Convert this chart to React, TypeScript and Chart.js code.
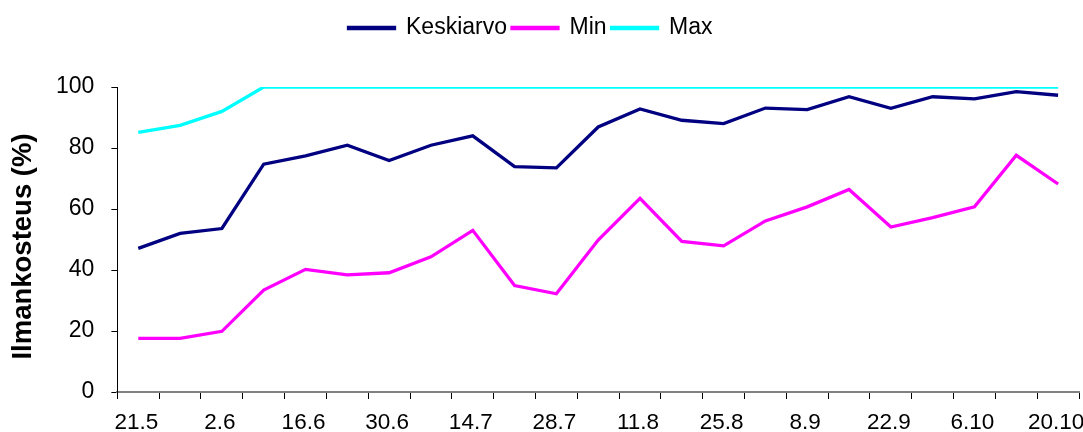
import React, { useEffect, useRef } from "react";
import { Chart, registerables } from "chart.js";

Chart.register(...registerables);

const categories = [
  "21.5", "27.5", "2.6", "9.6", "16.6", "23.6", "30.6", "7.7", "14.7", "21.7",
  "28.7", "4.8", "11.8", "18.8", "25.8", "1.9", "8.9", "15.9", "22.9", "29.9",
  "6.10", "13.10", "20.10",
];

const keskiarvo = [
  47.1, 52.0, 53.6, 74.7, 77.4, 80.9, 75.9, 80.9, 84.0, 73.9,
  73.5, 86.9, 92.8, 89.1, 88.0, 93.1, 92.6, 96.8, 93.0, 96.8,
  96.1, 98.5, 97.3,
];

const minValues = [
  17.6, 17.6, 19.9, 33.4, 40.2, 38.4, 39.1, 44.3, 53.0, 34.9,
  32.2, 49.8, 63.5, 49.4, 47.9, 56.1, 60.7, 66.4, 54.1, 57.2,
  60.7, 77.6, 68.2,
];

const maxValues = [
  85.1, 87.4, 92.0, 100, 100, 100, 100, 100, 100, 100,
  100, 100, 100, 100, 100, 100, 100, 100, 100, 100,
  100, 100, 100,
];

const yTicks = [0, 20, 40, 60, 80, 100];
const yTitle = "Ilmankosteus (%)";
const FONT = "'Liberation Sans', Arial, sans-serif";

export default function App() {
  const ref = useRef<HTMLCanvasElement | null>(null);

  useEffect(() => {
    document.body.style.margin = "0";
    document.body.style.overflow = "hidden";
    const canvas = ref.current;
    if (!canvas) return;

    const legendSpacer = {
      id: "legendSpacer",
      beforeInit(chart: any) {
        const lg = chart.legend;
        if (lg) {
          const orig = lg.fit;
          lg.fit = function () {
            orig.call(this);
            this.height += 37.5;
          };
        }
      },
      afterLayout(chart: any) {
        const lg = chart.legend;
        if (lg) {
          const w = lg.right - lg.left;
          lg.left = 343.5;
          lg.right = lg.left + w;
        }
      },
    };

    const yTitlePlugin = {
      id: "yTitlePlugin",
      afterDraw(chart: any) {
        const s = chart.scales.y;
        const ctx = chart.ctx;
        ctx.save();
        ctx.translate(23, (s.top + s.bottom) / 2 + 7);
        ctx.rotate(-Math.PI / 2);
        ctx.font = `bold 27.5px ${FONT}`;
        ctx.fillStyle = "#000";
        ctx.textAlign = "center";
        ctx.textBaseline = "middle";
        ctx.fillText(yTitle, 0, 0);
        ctx.restore();
      },
    };

    const mk = (label: string, data: number[], color: string) => ({
      label,
      data,
      borderColor: color,
      backgroundColor: color,
      borderWidth: 3.3,
      pointRadius: 0,
      tension: 0,
    });

    const chart = new Chart(canvas, {
      type: "line",
      data: {
        labels: categories,
        datasets: [
          mk("Keskiarvo", keskiarvo, "#000080"),
          mk("Min", minValues, "#FF00FF"),
          mk("Max", maxValues, "#00FFFF"),
        ],
      },
      options: {
        animation: false,
        responsive: false,
        maintainAspectRatio: false,
        layout: { padding: { left: 39, right: 4, top: 11.5, bottom: -14 } },
        plugins: {
          tooltip: { enabled: false },
          legend: {
            display: true,
            position: "top",
            align: "start",
            labels: {
              boxWidth: 46,
              boxHeight: 1,
              padding: 5,
              color: "#000",
              font: { family: FONT, size: 23 },
            },
          },
        },
        scales: {
          x: {
            type: "category",
            offset: true,
            afterFit: (scale: any) => {
              scale.paddingLeft = 0;
              scale.paddingRight = 0;
            },
            grid: {
              display: true,
              offset: true,
              drawOnChartArea: false,
              drawTicks: true,
              tickLength: 7,
              color: "#000",
            },
            border: { display: true, color: "#808080", width: 2 },
            ticks: {
              autoSkip: false,
              maxRotation: 0,
              minRotation: 0,
              padding: 10,
              labelOffset: -2,
              color: "#000",
              font: { family: FONT, size: 22.5 },
              callback: (_v: any, i: number) => (i % 2 === 0 ? categories[i] : ""),
            },
          },
          y: {
            min: 0,
            max: 100,
            afterBuildTicks: (scale: any) => {
              scale.ticks = yTicks.map((v) => ({ value: v }));
            },
            grid: {
              display: true,
              drawOnChartArea: false,
              drawTicks: true,
              tickLength: 6,
              color: "#000",
            },
            border: { display: true, color: "#000", width: 1 },
            ticks: {
              padding: 17,
              color: "#000",
              font: { family: FONT, size: 23 },
            },
          },
        },
      },
      plugins: [legendSpacer, yTitlePlugin],
    });

    return () => chart.destroy();
  }, []);

  return (
    <div style={{ width: 1083, height: 432 }}>
      <canvas ref={ref} width={1083} height={432} style={{ display: "block" }} />
    </div>
  );
}
